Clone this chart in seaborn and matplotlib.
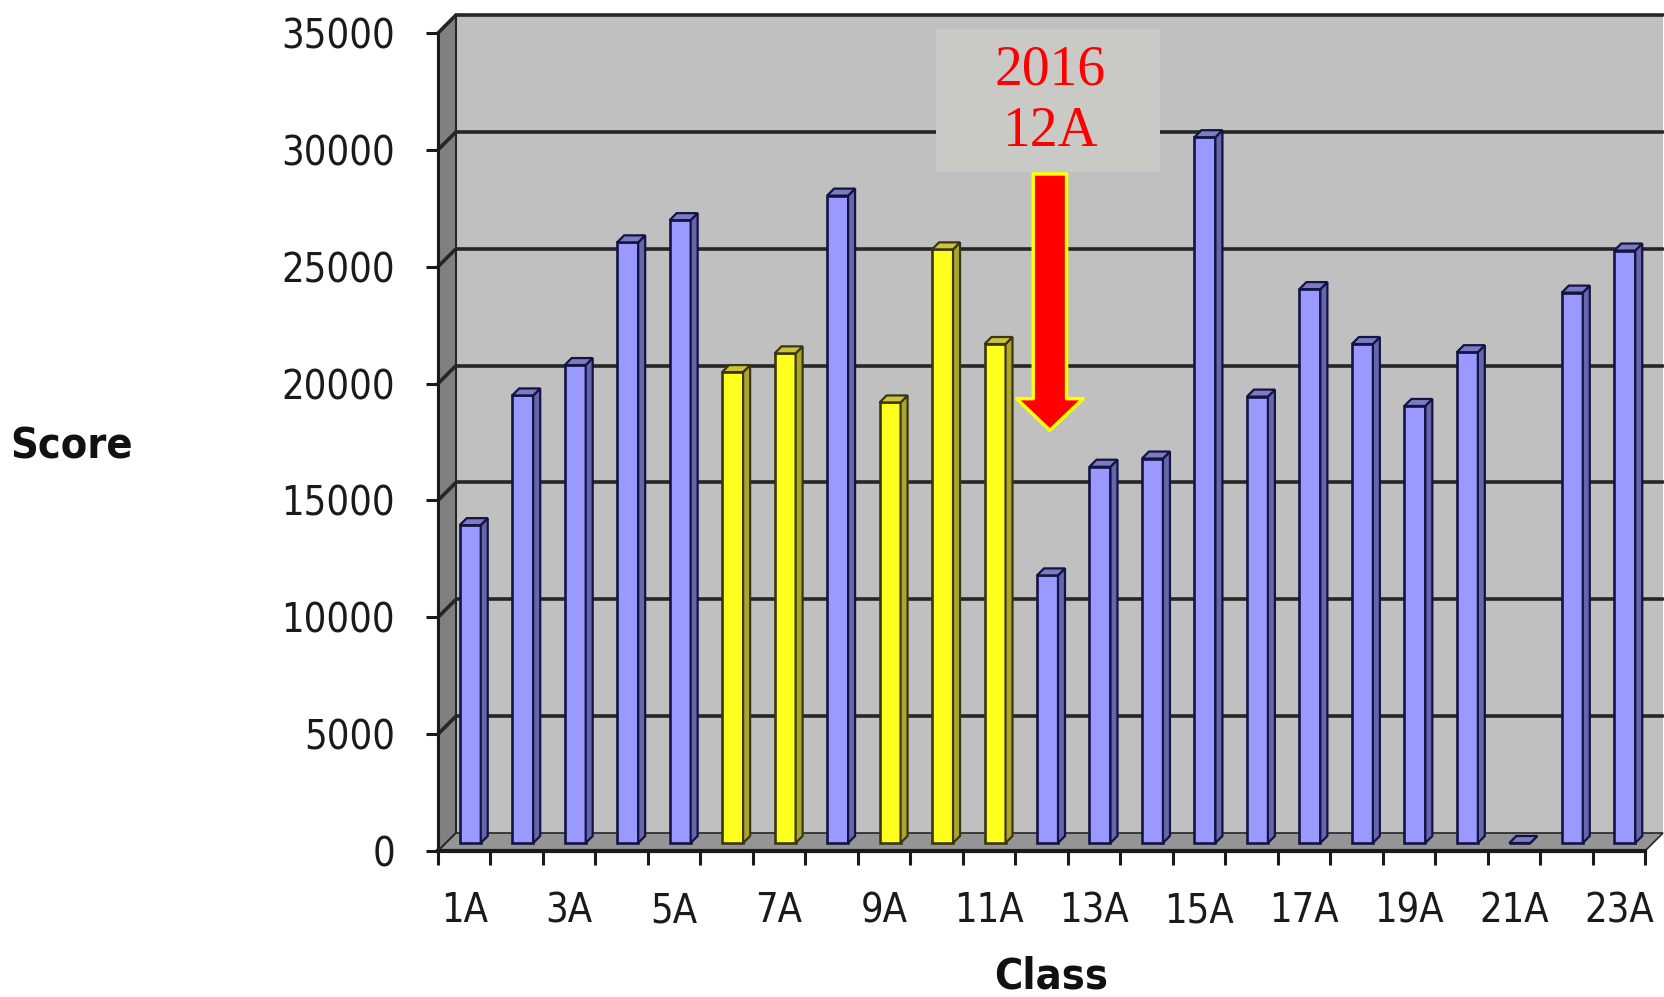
import numpy as np
import pandas as pd
import seaborn as sns
import matplotlib.pyplot as plt
from matplotlib.patches import Polygon, Rectangle
from matplotlib.transforms import offset_copy

# data
classes = ["1A", "2A", "3A", "4A", "5A", "6A", "7A", "8A", "9A", "10A", "11A", "12A",
           "13A", "14A", "15A", "16A", "17A", "18A", "19A", "20A", "21A", "22A", "23A"]
scores = [13600, 19150, 20450, 25700, 26650, 20150, 20950, 27700, 18850, 25400, 21350, 11450,
          16100, 16450, 30200, 19100, 23700, 21350, 18700, 21000, 0, 23550, 25350]
highlighted = ["6A", "7A", "9A", "10A", "11A"]
y_ticks = [0, 5000, 10000, 15000, 20000, 25000, 30000, 35000]
note_lines = ["2016", "12A"]

BLUE = {"front": "#9999FF", "side": "#6666AA", "top": "#7C7CC2", "edge": "#131345"}
YELLOW = {"front": "#FFFF1E", "side": "#ADA62C", "top": "#CCC43C", "edge": "#3A3612"}
WALL = 18      # depth of the 3d walls, px
BAR_OFF = (6, 8)   # bars sit a bit behind the front edge, px
BAR_DEPTH = 7

sns.set_theme(style="white")
plt.rcParams["font.family"] = ["DejaVu Sans"]
plt.rcParams["font.stretch"] = "condensed"

fig = plt.figure(figsize=(16.64, 9.97), dpi=100)
ax = fig.add_axes([438 / 1664, 146 / 997, 1207 / 1664, 818 / 997])
ax.set_facecolor("none")

df = pd.DataFrame({"Class": classes, "Score": scores})
palette = {c: (YELLOW if c in highlighted else BLUE)["front"] for c in classes}
sns.barplot(data=df, x="Class", y="Score", hue="Class", palette=palette, width=0.4,
            saturation=1, legend=False, ax=ax)

n = len(classes)
ax.set_xlim(-0.5, n - 0.5)
ax.set_ylim(0, y_ticks[-1])


def shifted(x, y, dx, dy):
    px = ax.transData.transform((x, y))
    return ax.transData.inverted().transform(px + np.array([dx, dy]))


# back wall, floor and left wall
bx0, by0 = shifted(-0.5, 0, WALL, WALL)
bx1, by1 = shifted(n - 0.5, y_ticks[-1], WALL, WALL)
ax.add_patch(Rectangle((bx0, by0), bx1 - bx0, by1 - by0, fc="#C0C0C0", ec="none",
                       clip_on=False, zorder=0.1))
for v in y_ticks[1:]:
    a = shifted(-0.5, v, WALL, WALL)
    b = shifted(n - 0.5, v, WALL, WALL)
    ax.plot([a[0], b[0]], [a[1], b[1]], color="#262626", lw=2.6, clip_on=False, zorder=0.2)
left_wall = [(-0.5, 0), (-0.5, y_ticks[-1]), shifted(-0.5, y_ticks[-1], WALL, WALL),
             shifted(-0.5, 0, WALL, WALL)]
ax.add_patch(Polygon(left_wall, closed=True, fc="#808080", ec="#262626", lw=1.5,
                     clip_on=False, zorder=0.3))
for v in y_ticks[1:]:
    a = shifted(-0.5, v, WALL, WALL)
    ax.plot([-0.5, a[0]], [v, a[1]], color="#262626", lw=2.6, clip_on=False, zorder=0.35)
floor = [(-0.5, 0), (n - 0.5, 0), shifted(n - 0.5, 0, WALL, WALL), shifted(-0.5, 0, WALL, WALL)]
ax.add_patch(Polygon(floor, closed=True, fc="#959595", ec="#262626", lw=1.2,
                     clip_on=False, zorder=0.3))

# 3d look on the bars
bar_trans = offset_copy(ax.transData, fig=fig, x=BAR_OFF[0], y=BAR_OFF[1], units="dots")
for p in ax.patches:
    if not isinstance(p, Rectangle) or p.get_width() > 1:
        continue
    idx = int(round(p.get_x() + p.get_width() / 2))
    if idx < 0 or idx >= n:
        continue
    col = YELLOW if classes[idx] in highlighted else BLUE
    x0, w, h = p.get_x(), p.get_width(), p.get_height()
    p.set_transform(bar_trans)
    p.set_edgecolor(col["edge"])
    p.set_linewidth(1.9)
    p.set_zorder(3)
    ox, oy = BAR_OFF
    d = BAR_DEPTH
    side = [shifted(x0 + w, 0, ox, oy), shifted(x0 + w, h, ox, oy),
            shifted(x0 + w, h, ox + d, oy + d), shifted(x0 + w, 0, ox + d, oy + d)]
    top = [shifted(x0, h, ox, oy), shifted(x0 + w, h, ox, oy),
           shifted(x0 + w, h, ox + d, oy + d), shifted(x0, h, ox + d, oy + d)]
    ax.add_patch(Polygon(side, closed=True, fc=col["side"], ec=col["edge"], lw=1.6,
                         clip_on=False, zorder=3))
    ax.add_patch(Polygon(top, closed=True, fc=col["top"], ec=col["edge"], lw=1.6,
                         clip_on=False, zorder=3))

# axes, ticks, labels
for s in ["top", "right"]:
    ax.spines[s].set_visible(False)
ax.spines["left"].set_color("#1A1A1A")
ax.spines["left"].set_linewidth(2.2)
ax.spines["bottom"].set_color("#1A1A1A")
ax.spines["bottom"].set_linewidth(3)
ax.spines["left"].set_zorder(0.5)
ax.spines["bottom"].set_zorder(0.5)

ax.set_yticks(y_ticks)
ax.set_yticklabels([str(v) for v in y_ticks])
ax.tick_params(axis="y", left=True, direction="out", length=9, width=2.2, pad=22,
               labelsize=28.5, colors="#1A1A1A")
ax.set_xticks(np.arange(-0.5, n, 1))
ax.set_xticklabels([])
ax.set_xticks(np.arange(0, n, 2), labels=classes[::2], minor=True)
ax.tick_params(axis="x", which="major", bottom=True, direction="out", length=10, width=2.2,
               color="#1A1A1A")
ax.tick_params(axis="x", which="minor", bottom=True, length=0, pad=29, labelsize=28.5,
               labelcolor="#1A1A1A")

ax.set_xlabel("Class", fontsize=31, fontweight="bold", color="#111111")
ax.xaxis.set_label_coords(0.508, -0.153)
ax.xaxis.label.set_va("center")
ax.set_ylabel("Score", fontsize=31, fontweight="bold", color="#111111", rotation=0)
ax.yaxis.set_label_coords(-0.304, 0.495)
ax.yaxis.label.set_va("center")
ax.yaxis.label.set_ha("center")

# the 2016 / 12A note with its arrow
tx = classes.index("12A") + 0.16
ax.add_patch(Rectangle((8.99, 29050), 13.26 - 8.99, 35170 - 29050, fc="#C9C9C5", ec="none",
                       clip_on=False, zorder=5))
serif = ["Liberation Serif", "DejaVu Serif"]
ax.text(tx, 33380, note_lines[0], ha="center", va="center", color="#FF0000", fontsize=40,
        family=serif, zorder=6)
ax.text(tx, 30760, note_lines[1], ha="center", va="center", color="#FF0000", fontsize=40,
        family=serif, zorder=6)
ax.annotate("", xy=(tx, 18000), xytext=(tx, 28970),
            arrowprops=dict(arrowstyle="simple,head_length=0.95,head_width=2.0,tail_width=1.0",
                            mutation_scale=24, fc="#FF0000", ec="#FFFF00", lw=2.5,
                            shrinkA=0, shrinkB=0),
            zorder=7)

fig.savefig("out.png", dpi=100)
